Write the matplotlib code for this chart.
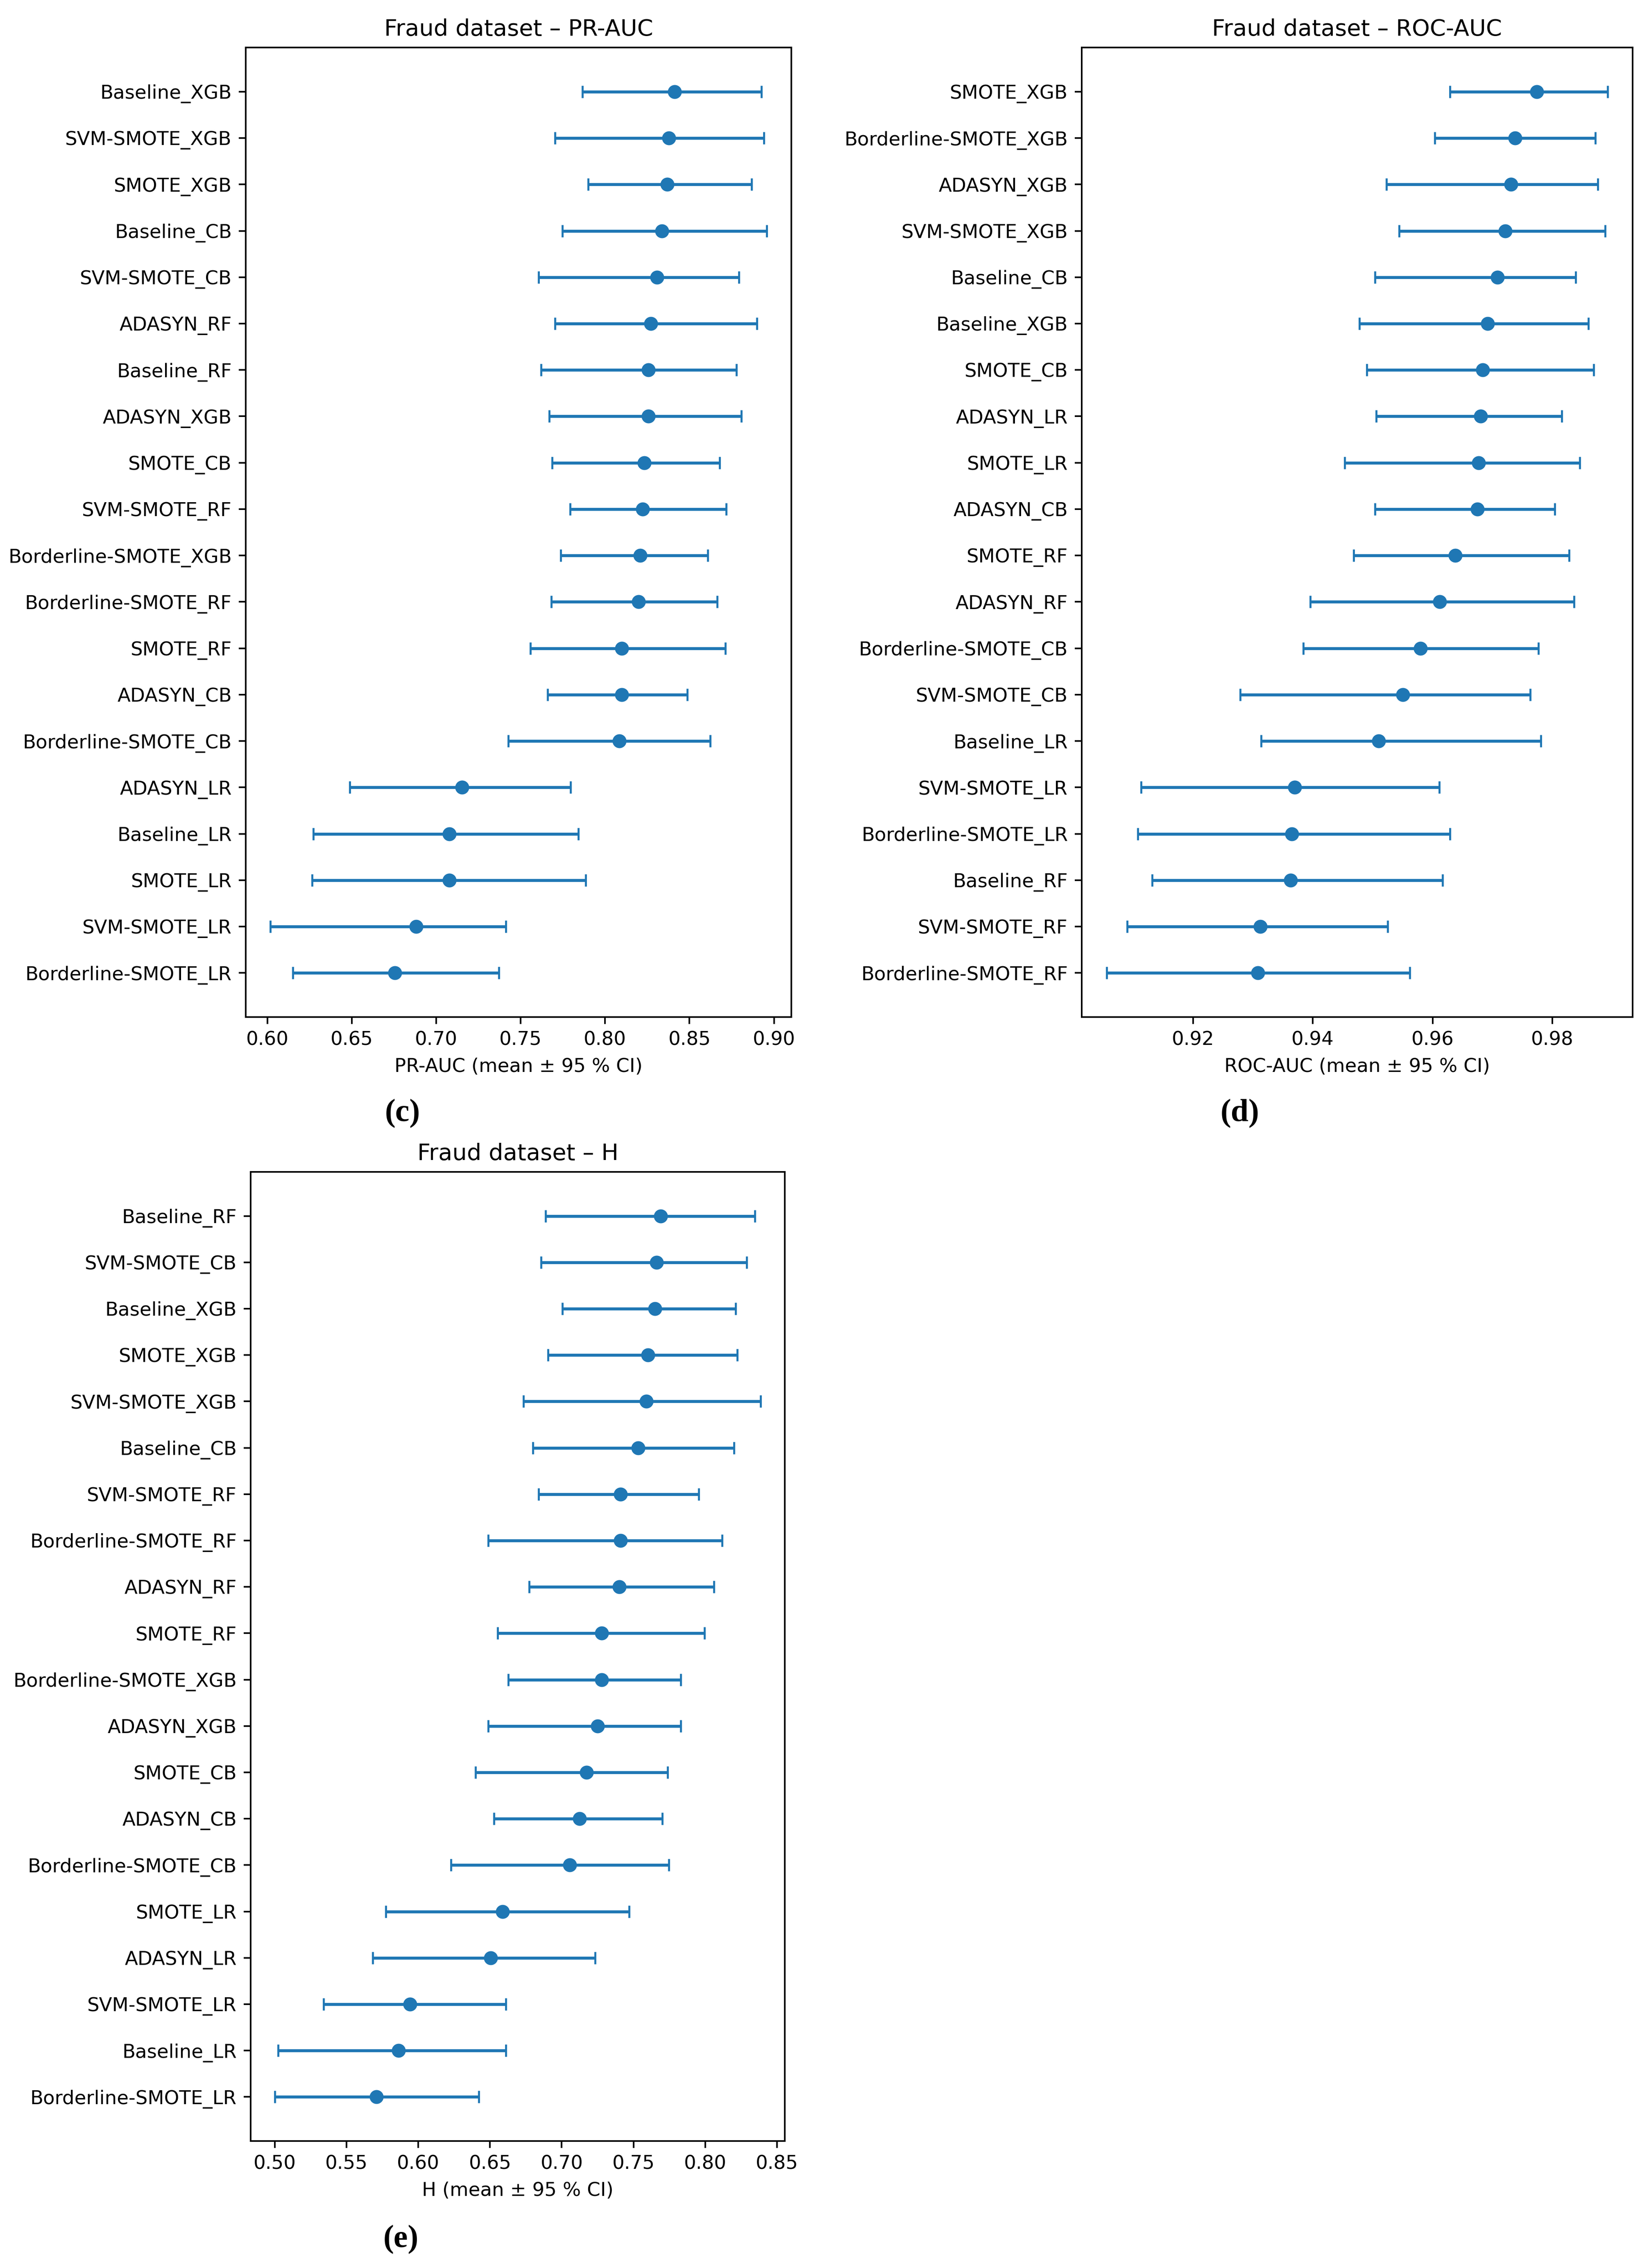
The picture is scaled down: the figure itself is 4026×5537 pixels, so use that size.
import numpy as np
import matplotlib
matplotlib.use("Agg")
import matplotlib.pyplot as plt

# (c) PR-AUC
pr_labels = ["Baseline_XGB", "SVM-SMOTE_XGB", "SMOTE_XGB", "Baseline_CB", "SVM-SMOTE_CB",
             "ADASYN_RF", "Baseline_RF", "ADASYN_XGB", "SMOTE_CB", "SVM-SMOTE_RF",
             "Borderline-SMOTE_XGB", "Borderline-SMOTE_RF", "SMOTE_RF", "ADASYN_CB",
             "Borderline-SMOTE_CB", "ADASYN_LR", "Baseline_LR", "SMOTE_LR", "SVM-SMOTE_LR",
             "Borderline-SMOTE_LR"]
pr_mean = [0.8412, 0.8378, 0.8368, 0.8337, 0.8307, 0.8272, 0.8257, 0.8257, 0.8232, 0.8223,
           0.8207, 0.8198, 0.8099, 0.8099, 0.8084, 0.7152, 0.7077, 0.7077, 0.6882, 0.6755]
pr_lo = [0.7867, 0.7703, 0.7901, 0.7746, 0.7607, 0.7703, 0.7622, 0.7669, 0.7687, 0.7793,
         0.7737, 0.7681, 0.7557, 0.7659, 0.7427, 0.6489, 0.6272, 0.6266, 0.6019, 0.6152]
pr_hi = [0.8926, 0.8941, 0.8867, 0.8957, 0.8793, 0.8898, 0.8777, 0.8808, 0.8678, 0.8718,
         0.8607, 0.8663, 0.8712, 0.8486, 0.8622, 0.7796, 0.7842, 0.7885, 0.7412, 0.7372]

# (d) ROC-AUC
roc_labels = ["SMOTE_XGB", "Borderline-SMOTE_XGB", "ADASYN_XGB", "SVM-SMOTE_XGB", "Baseline_CB",
              "Baseline_XGB", "SMOTE_CB", "ADASYN_LR", "SMOTE_LR", "ADASYN_CB", "SMOTE_RF",
              "ADASYN_RF", "Borderline-SMOTE_CB", "SVM-SMOTE_CB", "Baseline_LR", "SVM-SMOTE_LR",
              "Borderline-SMOTE_LR", "Baseline_RF", "SVM-SMOTE_RF", "Borderline-SMOTE_RF"]
roc_mean = [0.9774, 0.9738, 0.9731, 0.9721, 0.9708, 0.9692, 0.9684, 0.9680, 0.9677, 0.9675,
            0.9638, 0.9612, 0.9580, 0.9550, 0.9510, 0.9370, 0.9365, 0.9363, 0.9312, 0.9308]
roc_lo = [0.9629, 0.9604, 0.9523, 0.9544, 0.9504, 0.9478, 0.9490, 0.9506, 0.9453, 0.9504,
          0.9468, 0.9396, 0.9384, 0.9279, 0.9314, 0.9113, 0.9108, 0.9132, 0.9090, 0.9056]
roc_hi = [0.9892, 0.9872, 0.9876, 0.9888, 0.9839, 0.9860, 0.9869, 0.9816, 0.9846, 0.9804,
          0.9828, 0.9836, 0.9777, 0.9763, 0.9781, 0.9611, 0.9629, 0.9617, 0.9525, 0.9562]

# (e) H
h_labels = ["Baseline_RF", "SVM-SMOTE_CB", "Baseline_XGB", "SMOTE_XGB", "SVM-SMOTE_XGB",
            "Baseline_CB", "SVM-SMOTE_RF", "Borderline-SMOTE_RF", "ADASYN_RF", "SMOTE_RF",
            "Borderline-SMOTE_XGB", "ADASYN_XGB", "SMOTE_CB", "ADASYN_CB", "Borderline-SMOTE_CB",
            "SMOTE_LR", "ADASYN_LR", "SVM-SMOTE_LR", "Baseline_LR", "Borderline-SMOTE_LR"]
h_mean = [0.7690, 0.7660, 0.7650, 0.7602, 0.7591, 0.7533, 0.7410, 0.7410, 0.7402, 0.7279,
          0.7279, 0.7250, 0.7173, 0.7123, 0.7057, 0.6588, 0.6505, 0.5941, 0.5861, 0.5709]
h_lo = [0.6886, 0.6857, 0.7003, 0.6904, 0.6734, 0.6799, 0.6839, 0.6487, 0.6774, 0.6552,
        0.6628, 0.6487, 0.6399, 0.6526, 0.6228, 0.5774, 0.5683, 0.5338, 0.5022, 0.5000]
h_hi = [0.8347, 0.8289, 0.8213, 0.8224, 0.8387, 0.8202, 0.7955, 0.8118, 0.8060, 0.7995,
        0.7831, 0.7831, 0.7737, 0.7700, 0.7748, 0.7471, 0.7232, 0.6610, 0.6610, 0.6421]


def panel(ax, labels, mean, lo, hi, titulo, xlabel):
    mean = np.array(mean)
    xerr = [mean - np.array(lo), np.array(hi) - mean]
    y = np.arange(len(labels))
    ax.errorbar(mean, y, xerr=xerr, fmt="o", color="#1f77b4", capsize=3)
    ax.set_yticks(y)
    ax.set_yticklabels(labels)
    ax.invert_yaxis()
    ax.set_title(titulo, fontsize=11.5)
    ax.set_xlabel(xlabel, fontsize=9.6)
    ax.tick_params(labelsize=9.6)


fig = plt.figure(figsize=(4026 / 350, 5537 / 350), dpi=350)

ax_c = fig.add_axes([0.149, 0.5516, 0.331, 0.4274])
ax_d = fig.add_axes([0.656, 0.5516, 0.334, 0.4274])
ax_e = fig.add_axes([0.152, 0.056, 0.324, 0.4273])

panel(ax_c, pr_labels, pr_mean, pr_lo, pr_hi,
      "Fraud dataset \u2013 PR-AUC", "PR-AUC (mean \u00b1 95 % CI)")
panel(ax_d, roc_labels, roc_mean, roc_lo, roc_hi,
      "Fraud dataset \u2013 ROC-AUC", "ROC-AUC (mean \u00b1 95 % CI)")
panel(ax_e, h_labels, h_mean, h_lo, h_hi,
      "Fraud dataset \u2013 H", "H (mean \u00b1 95 % CI)")
ax_c.set_xticks(np.arange(0.60, 0.901, 0.05))
ax_d.set_xticks([0.92, 0.94, 0.96, 0.98])
ax_e.set_xticks(np.arange(0.50, 0.851, 0.05))

# etiquetas de subfigura
for x, y, t in [(0.244, 0.509, "(c)"), (0.752, 0.509, "(d)"), (0.243, 0.0125, "(e)")]:
    fig.text(x, y, t, ha="center", va="center", fontsize=16,
             family="Liberation Serif", weight="bold")

fig.savefig("out.png", dpi=350)
